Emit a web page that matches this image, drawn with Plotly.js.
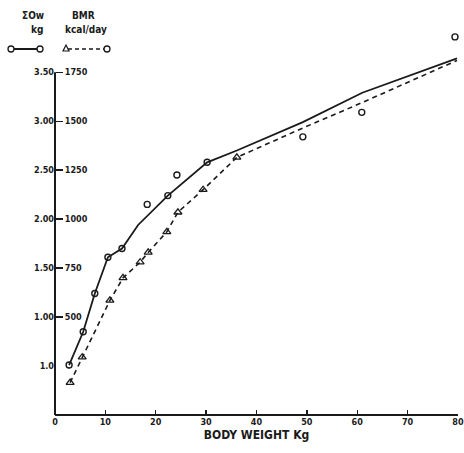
<!DOCTYPE html>
<html>
<head>
<meta charset="utf-8">
<script src="https://cdn.plot.ly/plotly-3.0.1.min.js"></script>
<style>html,body{margin:0;padding:0;background:#fff;}#chart{width:464px;height:453px;}</style>
</head>
<body>
<div id="chart"></div>
<script>
// ΣOw (kg) — fitted solid line
const owLineKg = [2.8, 5.6, 7.9, 10.5, 13.3, 16.5, 22.4, 30.2, 36.1, 49.2, 61, 79.8];
const owLineVal = [0.51, 0.85, 1.24, 1.61, 1.70, 1.94, 2.24, 2.58, 2.70, 2.99, 3.29, 3.64];
// ΣOw measured points (circles)
const owPtKg = [2.8, 5.6, 7.9, 10.5, 13.3, 18.3, 22.4, 24.2, 30.2, 49.2, 60.9, 79.4];
const owPtVal = [0.51, 0.85, 1.24, 1.61, 1.70, 2.15, 2.24, 2.45, 2.58, 2.84, 3.09, 3.86];
// BMR (kcal/day, plotted on the kg scale: kcal = 500 x value) — dashed line
const bmrLineKg = [3.0, 5.4, 10.9, 13.5, 16.9, 18.5, 22.2, 24.4, 29.4, 36.1, 49.2, 61, 79.8];
const bmrLineVal = [0.33, 0.59, 1.17, 1.40, 1.56, 1.66, 1.87, 2.07, 2.30, 2.63, 2.93, 3.19, 3.62];
// BMR measured points (triangles)
const bmrPtKg = [3.0, 5.4, 10.9, 13.5, 16.9, 18.5, 22.2, 24.4, 29.4, 36.1];
const bmrPtVal = [0.33, 0.59, 1.17, 1.40, 1.56, 1.66, 1.87, 2.07, 2.30, 2.63];

// tick labels
const xTickVals = [0, 10, 20, 30, 40, 50, 60, 70, 80];
const xTickText = ['0', '10', '20', '30', '40', '50', '60', '70', '80'];
const yLeftVals = [0.5, 1.0, 1.5, 2.0, 2.5, 3.0, 3.5];
const yLeftText = ['1.0', '1.00', '1.50', '2.00', '2.50', '3.00', '3.50'];
const yRightVals = [500, 750, 1000, 1250, 1500, 1750];
const yRightText = ['500', '750', '1000', '1250', '1500', '1750'];

const ink = '#1a1a1a';
const fontFam = '"DejaVu Sans Condensed", "DejaVu Sans", sans-serif';
const yMax = 3.9;

const traces = [
  {x: owLineKg, y: owLineVal, mode: 'lines', line: {color: ink, width: 1.8}, hoverinfo: 'skip'},
  {x: bmrLineKg, y: bmrLineVal, mode: 'lines', line: {color: ink, width: 1.6, dash: '5px,4px'}, hoverinfo: 'skip'},
  {x: owPtKg, y: owPtVal, mode: 'markers', cliponaxis: false,
   marker: {symbol: 'circle-open', size: 6, color: ink, line: {width: 1.4, color: ink}}},
  {x: bmrPtKg, y: bmrPtVal, mode: 'markers', cliponaxis: false,
   marker: {symbol: 'triangle-up-open', size: 7, color: ink, line: {width: 1.3, color: ink}}},
  // invisible trace to activate the kcal axis
  {x: [0], y: [0], yaxis: 'y2', mode: 'markers', marker: {opacity: 0}, hoverinfo: 'skip'}
];

// pixel helpers for decorations (plot area: x 55..458, y 33..415)
const L = 55, W = 403, B = 415, H = 382;
const px = v => (v - L) / W;
const py = v => (B - v) / H;

function circ(cx, cy, r) {
  return {type: 'circle', xref: 'paper', yref: 'paper', x0: px(cx - r), x1: px(cx + r), y0: py(cy + r), y1: py(cy - r),
          line: {color: ink, width: 1.3}, fillcolor: 'white'};
}
function tri(cx, cy, r) {
  return {type: 'path', xref: 'paper', yref: 'paper',
          path: `M ${px(cx - r)} ${py(cy + r)} L ${px(cx + r)} ${py(cy + r)} L ${px(cx)} ${py(cy - r)} Z`,
          line: {color: ink, width: 1.2}, fillcolor: 'white'};
}

const shapes = [
  // y axis line from 0 to 3.5 (paper coords so it is not clipped)
  {type: 'line', xref: 'paper', yref: 'paper', x0: 0, x1: 0, y0: 0, y1: 3.5 / yMax, line: {color: ink, width: 2}},
  // x axis line
  {type: 'line', xref: 'paper', yref: 'paper', x0: 0, x1: 1, y0: 0, y1: 0, line: {color: ink, width: 2}},
  // legend samples
  {type: 'line', xref: 'paper', yref: 'paper', x0: px(11), x1: px(40), y0: py(49), y1: py(49), line: {color: ink, width: 2}},
  circ(11, 49, 3), circ(40, 49, 3),
  {type: 'line', xref: 'paper', yref: 'paper', x0: px(68), x1: px(105), y0: py(49), y1: py(49), line: {color: ink, width: 1.5, dash: '4px,3px'}},
  tri(66, 48, 3), circ(107, 49, 3)
];

function ann(text, x, y, size) {
  return {text: text, xref: 'paper', yref: 'paper', x: px(x), y: py(y), showarrow: false,
          xanchor: 'center', yanchor: 'middle', font: {family: fontFam, size: size || 10, color: ink, weight: 'bold'}};
}

const layout = {
  width: 464, height: 453,
  margin: {l: 55, r: 6, t: 33, b: 38},
  paper_bgcolor: 'white', plot_bgcolor: 'white',
  showlegend: false,
  font: {family: fontFam, color: ink},
  xaxis: {
    range: [0, 80], showgrid: false, zeroline: false, showline: false,
    tickvals: xTickVals, ticktext: xTickText,
    ticks: 'inside', ticklen: 5, tickwidth: 1.3, tickcolor: ink,
    tickfont: {family: fontFam, size: 9, color: ink, weight: 'bold'},
    title: {text: 'BODY WEIGHT Kg', font: {family: fontFam, size: 12, color: ink, weight: 'bold'}, standoff: 4}
  },
  yaxis: {
    range: [0, yMax], showgrid: false, zeroline: false, showline: false,
    tickvals: yLeftVals, ticktext: yLeftText, ticks: '',
    tickfont: {family: fontFam, size: 9, color: ink, weight: 'bold'}
  },
  yaxis2: {
    overlaying: 'y', side: 'right', anchor: 'free', position: 0,
    range: [0, yMax * 500], showgrid: false, zeroline: false, showline: false,
    tickvals: yRightVals, ticktext: yRightText,
    ticks: 'outside', ticklen: 7, tickwidth: 1.3, tickcolor: ink,
    tickfont: {family: fontFam, size: 9, color: ink, weight: 'bold'}
  },
  shapes: shapes,
  annotations: [
    ann('ΣOw', 33, 15), ann('kg', 37, 30),
    ann('BMR', 83, 15), ann('kcal/day', 86, 30)
  ]
};

Plotly.newPlot('chart', traces, layout, {staticPlot: true, displayModeBar: false});
</script>
</body>
</html>
